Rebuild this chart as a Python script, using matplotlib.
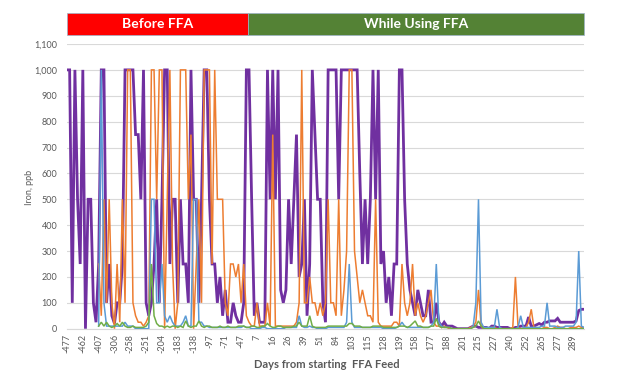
import numpy as np
import matplotlib.pyplot as plt
from matplotlib.patches import Rectangle
from matplotlib.ticker import FuncFormatter

nan = np.nan

# tick labels (days from starting FFA feed), one label every 6 samples
tick_labels = ["-477", "-462", "-407", "-306", "-258", "-251", "-204", "-183",
               "-138", "-97", "-71", "-47", "7", "16", "26", "39", "51", "84",
               "103", "115", "128", "139", "158", "177", "188", "201", "215",
               "227", "240", "252", "265", "277", "289"]
tick_step = 6

# iron, ppb - four sample points
purple = [1000, 1000, 100, 1000, 500, 250, 1000, 0, 500, 500,
          100, 25, 250, 1000, 1000, 100, 250, 50, 20, 100,
          100, 250, 1000, 1000, 1000, 1000, 750, 750, 500, 1000,
          100, 50, 100, 250, 500, 100, 500, 1000, 1000, 250,
          500, 500, 100, 500, 250, 250, 100, 1000, 500, 500,
          100, 500, 1000, 1000, 500, 250, 250, 100, 200, 50,
          150, 25, 25, 100, 50, 25, 25, 100, 1000, 1000,
          500, 50, 100, 25, 25, 25, 1000, 500, 1000, 500,
          1000, 150, 100, 150, 500, 250, 500, 750, 200, 250,
          500, 50, 250, 1000, 750, 500, 500, 100, 25, 1000,
          1000, 1000, 1000, 500, 1000, 1000, 1000, 1000, 1000, 1000,
          1000, 600, 250, 500, 250, 500, 1000, 500, 1000, 250,
          300, 100, 200, 50, 250, 250, 1000, 1000, 500, 250,
          150, 100, 50, 150, 100, 50, 50, 150, 25, 25,
          100, 25, 10, 25, 10, 10, 10, 5, 0, 0,
          0, 0, 0, 5, 10, 10, 5, 5, 5, 5,
          0, 10, 10, 5, 5, 5, 5, 5, 0, 0,
          5, 5, 10, 10, 10, 45, 10, 10, 15, 20,
          15, 25, 25, 30, 30, 30, 40, 25, 25, 25,
          25, 25, 25, 30, 70, 75, 75]

orange = [nan, nan, nan, nan, nan, nan, nan, nan, nan, nan, nan, nan,
          250, 50, 500, 100, 500, 100, 0, 250, 25, 500,
          100, 1000, 1000, 100, 50, 25, 25, 10, 25, 50,
          1000, 1000, 500, 1000, 1000, 0, 500, 1000, 250, 0,
          100, 1000, 1000, 1000, 500, 750, 0, 250, 500, 100,
          1000, 1000, 1000, 250, 1000, 500, 500, 500, 100, 50,
          250, 250, 200, 250, 100, 250, 50, 25, 10, 10,
          100, 10, 10, 10, 100, 10, 750, 10, 10, 10,
          10, 10, 10, 10, 10, 25, 100, 1000, 100, 100,
          200, 100, 100, 50, 100, 50, 100, 500, 100, 100,
          50, 500, 50, 150, 300, 1000, 1000, 300, 200, 100,
          150, 100, 50, 50, 25, 500, 25, 10, 10, 10,
          10, 10, 25, 25, 10, 250, 100, 50, 100, 250,
          50, 100, 50, 25, 50, 100, 150, 25, 10, 10,
          5, 10, 5, 0, 0, 0, 0, 0, 0, 0,
          0, 5, 10, 25, 150, 10, 0, 0, 0, 5,
          5, 0, 0, 0, 0, 0, 0, 5, 200, 5,
          0, 0, 5, 25, 75, 5, 0, 0, 0, 5,
          5, 0, 0, 5, 10, 5, 5, 0, 0, 5,
          5, 5, 10, 5, 5]

blue = [nan, nan, nan, nan, nan, nan, nan, nan, nan, nan, nan, nan,
        10, 1000, 100, 10, 10, 10, 10, 10, 10, 10,
        25, 10, 10, 10, 0, 0, 0, 0, 0, 0,
        500, 500, 100, 100, 250, 50, 25, 50, 25, 10,
        10, 10, 25, 50, 10, 10, 500, 500, 25, 25,
        10, 10, 5, 5, 5, 5, 5, 5, 5, 5,
        5, 5, 5, 5, 5, 10, 5, 5, 0, 0,
        0, 0, 5, 5, 0, 0, 0, 0, 0, 0,
        0, 5, 5, 5, 5, 5, 50, 10, 5, 5,
        10, 5, 5, 0, 0, 0, 0, 5, 5, 5,
        5, 5, 5, 5, 25, 250, 25, 5, 5, 5,
        5, 5, 5, 5, 5, 5, 5, 5, 0, 0,
        0, 0, 0, 5, 10, 25, 10, 5, 5, 5,
        5, 5, 5, 5, 5, 5, 10, 25, 250, 25,
        10, 5, 5, 5, 0, 0, 0, 0, 0, 0,
        0, 0, 10, 100, 500, 25, 5, 5, 5, 5,
        5, 75, 5, 0, 0, 0, 0, 0, 0, 5,
        50, 5, 5, 5, 5, 5, 5, 5, 10, 10,
        100, 10, 10, 10, 5, 5, 5, 10, 10, 10,
        10, 25, 300, 10, 5]

green = [nan, nan, nan, nan, nan, nan, nan, nan, nan, nan, nan, nan,
         10, 25, 10, 25, 10, 5, 10, 20, 10, 25,
         10, 5, 5, 10, 5, 5, 5, 5, 10, 25,
         250, 50, 20, 10, 10, 5, 10, 5, 10, 10,
         5, 10, 5, 30, 10, 5, 10, 10, 30, 10,
         5, 10, 10, 5, 5, 5, 10, 5, 5, 10,
         5, 5, 5, 10, 10, 10, 5, 5, 10, 10,
         5, 5, 10, 10, 20, 10, 5, 5, 10, 10,
         5, 5, 5, 5, 10, 10, 25, 10, 10, 10,
         50, 10, 5, 5, 5, 5, 5, 10, 10, 10,
         10, 10, 10, 10, 10, 20, 20, 10, 10, 10,
         5, 5, 5, 5, 10, 10, 10, 10, 5, 5,
         5, 5, 5, 5, 10, 10, 10, 5, 10, 20,
         30, 10, 10, 5, 5, 5, 10, 10, 40, 10,
         5, 5, 5, 5, 0, 0, 0, 0, 0, 0,
         0, 0, 5, 10, 30, 10, 0, 0, 0, 0,
         0, 0, 0, 0, 0, 0, 0, 0, 0, 0,
         0, 0, 0, 0, 0, 0, 0, 0, 0, 0,
         0, 0, 0, 0, 0, 0, 0, 0, 0, 0,
         0, 0, 0, 0, 0]

plt.rcParams['font.family'] = ['Lato', 'DejaVu Sans']
grey = '#595959'

fig = plt.figure(figsize=(6.22, 3.75), dpi=100)
ax = fig.add_axes([67 / 622, 1 - 328.7 / 375, (584 - 67) / 622, (328.7 - 44) / 375])

series = [(purple, '#7030A0', 2.0), (orange, '#ED7D31', 1.1),
          (blue, '#5B9BD5', 1.1), (green, '#70AD47', 1.1)]
for z, (vals, col, lw) in enumerate(series):
    ax.plot(np.arange(len(vals)), vals, color=col, lw=lw, zorder=3 + z,
            solid_joinstyle='miter')

n = len(purple)
ax.set_xlim(0, n - 1)
ax.set_ylim(0, 1100)
ax.set_yticks(np.arange(0, 1101, 100))
ax.yaxis.set_major_formatter(FuncFormatter(lambda v, p: f"{int(v):,}"))
ax.set_xticks(np.arange(len(tick_labels)) * tick_step)
ax.set_xticklabels(tick_labels, rotation=90)
ax.tick_params(axis='y', length=0, pad=7, labelsize=6.5, labelcolor=grey)
ax.tick_params(axis='x', length=0, pad=4, labelsize=6.5, labelcolor=grey)
ax.grid(axis='y', color='#D9D9D9', lw=0.8)
ax.set_axisbelow(True)
for s in ['left', 'right', 'top']:
    ax.spines[s].set_visible(False)
ax.spines['bottom'].set_color('#D9D9D9')

fig.text(0.047, 0.50, 'Iron, ppb', rotation=90, ha='center', va='center',
         fontsize=6.5, color=grey)
fig.text(327 / 622, 1 - 365 / 375, 'Days from starting  FFA Feed', ha='center',
         va='center', fontsize=8, color=grey, fontweight='bold')

# header bars
y0, y1 = 1 - 35 / 375, 1 - 13 / 375
xa, xb, xc = 67 / 622, 248 / 622, 584 / 622
fig.patches.append(Rectangle((xa, y0), xb - xa, y1 - y0, transform=fig.transFigure,
                             facecolor='#FF0000', edgecolor='#9DB3C9', lw=0.5))
fig.patches.append(Rectangle((xb, y0), xc - xb, y1 - y0, transform=fig.transFigure,
                             facecolor='#548235', edgecolor='#9DB3C9', lw=0.5))
fig.text((xa + xb) / 2, (y0 + y1) / 2, 'Before FFA', ha='center', va='center',
         color='white', fontsize=10, fontweight='bold')
fig.text((xb + xc) / 2, (y0 + y1) / 2, 'While Using FFA', ha='center', va='center',
         color='white', fontsize=10, fontweight='bold')

fig.savefig('out.png', dpi=100)
